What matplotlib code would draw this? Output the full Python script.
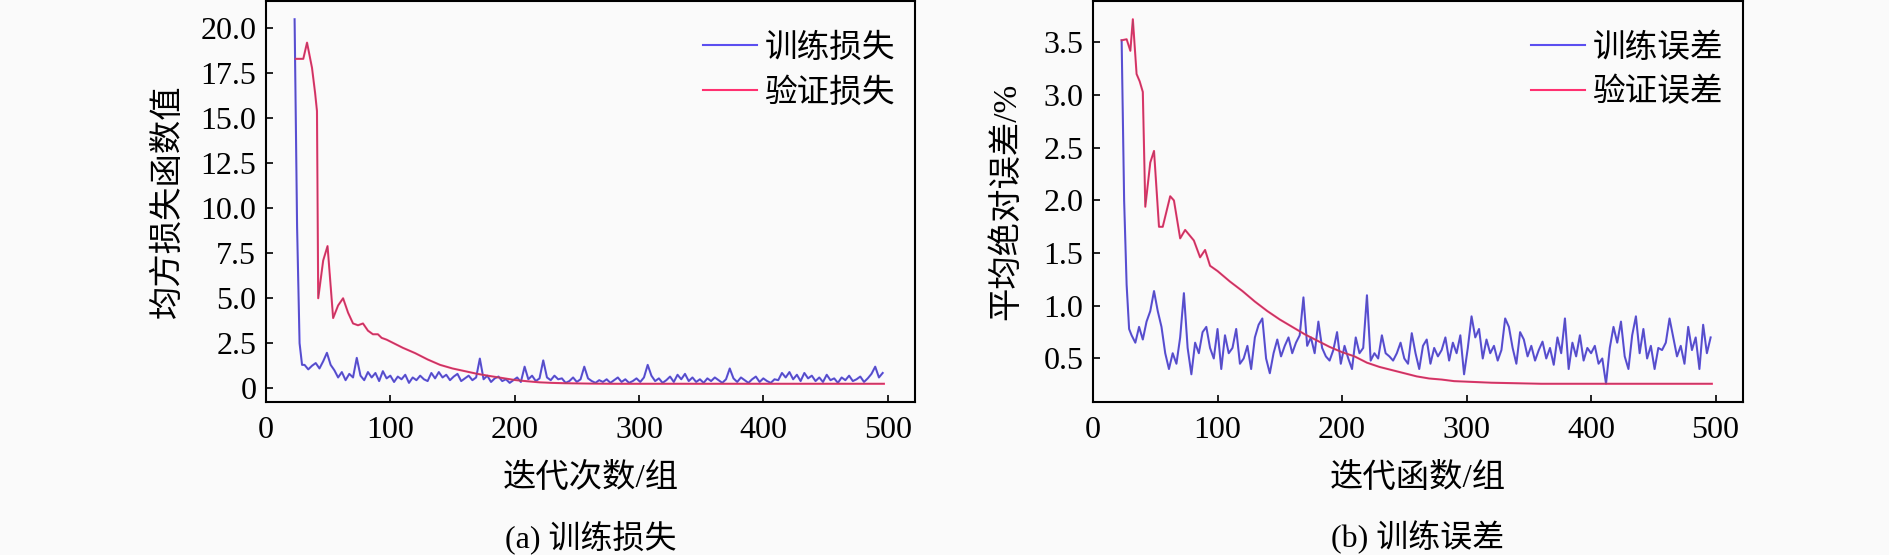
import matplotlib.pyplot as plt
import numpy as np

plt.rcParams['font.family'] = ['Liberation Serif', 'Noto Sans CJK SC']
plt.rcParams['font.size'] = 23

# (a) loss curves
loss_head_x = [23, 25, 27, 29]
loss_head_y = [20.5, 9.0, 2.5, 1.3]
train_loss = [1.3, 1.05, 1.25, 1.4, 1.1, 1.5, 1.97, 1.3, 1.0, 0.6,
              0.9, 0.45, 0.8, 0.6, 1.69, 0.7, 0.45, 0.9, 0.6, 0.85,
              0.4, 0.95, 0.55, 0.7, 0.35, 0.65, 0.5, 0.75, 0.3, 0.6,
              0.45, 0.7, 0.5, 0.4, 0.85, 0.55, 0.9, 0.6, 0.75, 0.45,
              0.65, 0.8, 0.4, 0.55, 0.7, 0.45, 0.6, 1.65, 0.5, 0.7,
              0.35, 0.55, 0.65, 0.4, 0.5, 0.3, 0.45, 0.6, 0.35, 1.2,
              0.5, 0.7, 0.4, 0.55, 1.55, 0.6, 0.45, 0.7, 0.5, 0.55,
              0.3, 0.4, 0.6, 0.35, 0.5, 1.2, 0.55, 0.4, 0.3, 0.45,
              0.35, 0.5, 0.3, 0.45, 0.6, 0.35, 0.5, 0.3, 0.4, 0.55,
              0.35, 0.6, 1.3, 0.7, 0.4, 0.55, 0.3, 0.45, 0.65, 0.35,
              0.75, 0.5, 0.8, 0.4, 0.6, 0.35, 0.5, 0.3, 0.55, 0.4,
              0.6, 0.45, 0.3, 0.5, 1.1, 0.55, 0.35, 0.6, 0.45, 0.3,
              0.5, 0.65, 0.35, 0.55, 0.4, 0.3, 0.5, 0.45, 0.85, 0.6,
              0.9, 0.5, 0.75, 0.4, 0.85, 0.55, 0.7, 0.4, 0.6, 0.35,
              0.75, 0.45, 0.55, 0.3, 0.6, 0.45, 0.7, 0.4, 0.5, 0.65,
              0.35, 0.55, 0.8, 1.2, 0.6, 0.85]
val_loss_x = [24, 30, 33, 37, 39.5, 41, 42, 46, 49.5, 54, 58, 62, 66, 70, 74,
              78, 82, 86, 90, 93, 97, 110, 120, 130, 140, 150, 160, 170, 180,
              190, 200, 210, 220, 230, 240, 260, 280, 300, 340, 380, 420, 460, 497]
val_loss_y = [18.3, 18.3, 19.2, 17.8, 16.4, 15.4, 5.0, 7.1, 7.9, 3.9, 4.6, 5.0,
              4.2, 3.6, 3.5, 3.6, 3.2, 3.0, 3.0, 2.8, 2.7, 2.25, 1.95, 1.6, 1.3,
              1.1, 0.95, 0.8, 0.68, 0.57, 0.46, 0.39, 0.33, 0.3, 0.28, 0.26, 0.25,
              0.25, 0.25, 0.25, 0.25, 0.25, 0.25]

# (b) error curves
err_head_x = [23, 25, 27, 29]
err_head_y = [3.52, 2.0, 1.2, 0.78]
train_err = [0.72, 0.65, 0.80, 0.68, 0.85, 0.95, 1.14, 0.95, 0.80, 0.55,
             0.40, 0.55, 0.45, 0.70, 1.12, 0.60, 0.35, 0.65, 0.55, 0.75,
             0.80, 0.60, 0.50, 0.78, 0.40, 0.72, 0.55, 0.60, 0.78, 0.45,
             0.50, 0.62, 0.40, 0.70, 0.82, 0.88, 0.50, 0.36, 0.55, 0.68,
             0.52, 0.62, 0.70, 0.55, 0.65, 0.72, 1.08, 0.62, 0.70, 0.55,
             0.85, 0.60, 0.52, 0.48, 0.58, 0.75, 0.45, 0.62, 0.50, 0.40,
             0.70, 0.55, 0.60, 1.10, 0.48, 0.55, 0.50, 0.72, 0.55, 0.52,
             0.48, 0.55, 0.65, 0.50, 0.45, 0.74, 0.55, 0.40, 0.62, 0.68,
             0.45, 0.60, 0.52, 0.58, 0.70, 0.48, 0.65, 0.55, 0.72, 0.35,
             0.60, 0.90, 0.70, 0.78, 0.50, 0.68, 0.55, 0.62, 0.48, 0.58,
             0.88, 0.80, 0.60, 0.45, 0.75, 0.68, 0.52, 0.62, 0.48, 0.58,
             0.66, 0.50, 0.60, 0.44, 0.70, 0.55, 0.88, 0.40, 0.65, 0.52,
             0.72, 0.48, 0.60, 0.55, 0.62, 0.45, 0.50, 0.26, 0.60, 0.80,
             0.65, 0.85, 0.52, 0.40, 0.72, 0.90, 0.55, 0.78, 0.50, 0.62,
             0.40, 0.60, 0.58, 0.65, 0.88, 0.70, 0.52, 0.62, 0.45, 0.80,
             0.58, 0.70, 0.40, 0.82, 0.55, 0.70]
val_err_x = [23, 27, 30, 32, 35, 37.5, 40, 42, 46, 49, 53, 56, 62, 65, 70, 74,
             81, 86, 90, 94, 100, 110, 120, 130, 140, 150, 160, 170, 180, 190,
             200, 210, 220, 230, 240, 250, 260, 270, 280, 290, 300, 320, 340,
             360, 380, 400, 420, 440, 460, 480, 497]
val_err_y = [3.52, 3.53, 3.42, 3.72, 3.20, 3.13, 3.03, 1.94, 2.36, 2.47, 1.75,
             1.75, 2.04, 2.00, 1.64, 1.72, 1.62, 1.46, 1.53, 1.38, 1.33, 1.23,
             1.14, 1.04, 0.95, 0.87, 0.80, 0.73, 0.67, 0.61, 0.56, 0.52, 0.46,
             0.42, 0.39, 0.36, 0.33, 0.31, 0.30, 0.285, 0.28, 0.27, 0.265,
             0.26, 0.26, 0.26, 0.26, 0.26, 0.26, 0.26, 0.26]

blue = '#5b4ff0'
red = '#ff3070'
bg = '#fafafa'


def draw(ax, tx, ty, vx, vy, labels, ylabel, xlabel, caption, yticks, ylabels, ypad):
    ax.plot(tx, ty, color=blue, lw=1.5, label=labels[0])
    ax.plot(vx, vy, color=red, lw=1.5, label=labels[1])
    # dark core seen on the original curves
    ax.plot(tx, ty, color='#555555', lw=0.6, alpha=0.45)
    ax.plot(vx, vy, color='#555555', lw=0.6, alpha=0.55)
    ax.set_facecolor(bg)
    ax.set_xlim(0, 522)
    ax.set_xticks([0, 100, 200, 300, 400, 500])
    ax.set_yticks(yticks)
    ax.set_yticklabels(ylabels)
    ax.tick_params(direction='in', length=5, width=1.2, labelsize=23)
    ax.tick_params(axis='x', pad=10)
    ax.tick_params(axis='y', pad=7)
    for s in ax.spines.values():
        s.set_linewidth(1.5)
    ax.set_ylabel(ylabel, fontsize=24, labelpad=ypad)
    ax.set_xlabel(xlabel, fontsize=24, labelpad=13)
    ax.text(0.5, -0.337, caption, transform=ax.transAxes, ha='center',
            va='center', fontsize=23)
    ax.legend(loc='upper right', bbox_to_anchor=(1, 0.968), frameon=False,
              fontsize=23.5, handlelength=1.65, handletextpad=0.25,
              labelspacing=0.43, borderaxespad=0.2)


fig = plt.figure(figsize=(18.9, 5.55), dpi=100, facecolor=bg)
ax1 = fig.add_axes([266 / 1890, 1 - 402 / 555, 649 / 1890, 401 / 555])
ax2 = fig.add_axes([1093 / 1890, 1 - 402 / 555, 650 / 1890, 401 / 555])

tl_x = loss_head_x + list(31 + 3 * np.arange(len(train_loss)))
tl_y = loss_head_y + train_loss
draw(ax1, tl_x, tl_y, val_loss_x, val_loss_y, ['训练损失', '验证损失'],
     '均方损失函数值', '迭代次数/组', '(a) 训练损失',
     [0, 2.5, 5, 7.5, 10, 12.5, 15, 17.5, 20],
     ['0', '2.5', '5.0', '7.5', '10.0', '12.5', '15.0', '17.5', '20.0'], 12)

te_x = err_head_x + list(31 + 3 * np.arange(len(train_err)))
te_y = err_head_y + train_err
draw(ax2, te_x, te_y, val_err_x, val_err_y, ['训练误差', '验证误差'],
     '平均绝对误差/%', '迭代函数/组', '(b) 训练误差',
     [0.5, 1.0, 1.5, 2.0, 2.5, 3.0, 3.5],
     ['0.5', '1.0', '1.5', '2.0', '2.5', '3.0', '3.5'], 15)

fig.savefig('out.png', dpi=100, facecolor=bg)
